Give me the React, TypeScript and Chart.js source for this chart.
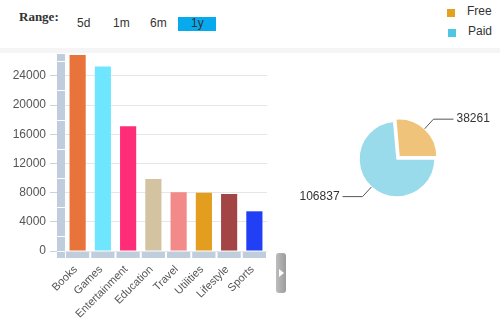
import React, { useEffect, useRef } from "react";
import { Chart, registerables } from "chart.js";

Chart.register(...registerables);

const FONT = '"Liberation Sans", Arial, sans-serif';

const categories = ["Books", "Games", "Entertainment", "Education", "Travel", "Utilities", "Lifestyle", "Sports"];
const downloads = [26880, 25280, 17100, 9880, 8050, 8000, 7820, 5440];
const barColors = ["#e8743b", "#6fe6ff", "#ff2d78", "#d3c3a1", "#f28a8a", "#e39d1f", "#a34545", "#2140f5"];
const yTicks = [0, 4000, 8000, 12000, 16000, 20000, 24000];
const yMax = 27000;

const pieLabels = ["Free", "Paid"];
const pieValues = [38261, 106837];
const pieColors = ["#efc379", "#99dbea"];
const legendColors = ["#e3a21e", "#4fc7e3"];

const rangeButtons = ["5d", "1m", "6m", "1y"];
const activeRange = "1y";

const BLOCK = "#bfcddc";

const axisBlocks = {
  id: "axisBlocks",
  beforeDatasetsDraw(chart: any) {
    const { ctx, chartArea, scales } = chart;
    const x = scales.x;
    const y = scales.y;
    const y0 = Math.round(y.getPixelForValue(0));
    const colL = chartArea.left - 8;
    ctx.save();
    ctx.fillStyle = BLOCK;
    ctx.fillRect(colL, chartArea.top, 8, y0 + 7 - chartArea.top);
    ctx.fillStyle = "#ffffff";
    for (let v = 2000; v < yMax; v += 4000) {
      const py = Math.round(y.getPixelForValue(v));
      ctx.fillRect(colL, py, 8, 1);
    }
    ctx.fillRect(colL, y0, 8, 1);
    ctx.fillStyle = BLOCK;
    const n = categories.length;
    const w = (chartArea.right - chartArea.left) / n;
    for (let i = 0; i < n; i++) {
      const c = x.getPixelForValue(i);
      ctx.fillRect(c - w / 2 + 1, y0 + 1, w - 2, 6);
    }
    ctx.restore();
  },
};

const pieLabelPlugin = {
  id: "pieLabelPlugin",
  afterDatasetsDraw(chart: any) {
    const { ctx } = chart;
    const meta = chart.getDatasetMeta(0);
    ctx.save();
    ctx.strokeStyle = "#555";
    ctx.lineWidth = 1;
    ctx.fillStyle = "#333";
    ctx.font = `12px ${FONT}`;
    ctx.textBaseline = "middle";
    meta.data.forEach((arc: any, i: number) => {
      const p = arc.getProps(["x", "y", "startAngle", "endAngle", "outerRadius"], true);
      const off = (arc.options.offset || 0) / 4;
      const mid = (p.startAngle + p.endAngle) / 2;
      const c = Math.cos(mid);
      const s = Math.sin(mid);
      const r0 = p.outerRadius + off;
      const x0 = p.x + c * r0;
      const y0 = p.y + s * r0;
      const x1 = p.x + c * (r0 + 13);
      const y1 = p.y + s * (r0 + 13);
      const dir = c >= 0 ? 1 : -1;
      const x2 = x1 + dir * 20;
      ctx.beginPath();
      ctx.moveTo(x0, y0);
      ctx.lineTo(x1, y1);
      ctx.lineTo(x2, y1);
      ctx.stroke();
      ctx.textAlign = dir > 0 ? "left" : "right";
      ctx.fillText(String(pieValues[i]), x2 + dir * 3, y1);
    });
    ctx.restore();
  },
};

export default function App() {
  const barRef = useRef<HTMLCanvasElement>(null);
  const pieRef = useRef<HTMLCanvasElement>(null);

  useEffect(() => {
    const bar = new Chart(barRef.current as HTMLCanvasElement, {
      type: "bar",
      data: {
        labels: categories,
        datasets: [
          {
            data: downloads,
            backgroundColor: barColors,
            barPercentage: 0.64,
            categoryPercentage: 1,
            borderWidth: 0,
          },
        ],
      },
      options: {
        responsive: false,
        animation: false,
        layout: { padding: { top: 54, right: 8, left: 0, bottom: 0 } },
        plugins: { legend: { display: false }, tooltip: { enabled: false } },
        scales: {
          x: {
            grid: { display: false },
            border: { display: false },
            ticks: {
              autoSkip: false,
              maxRotation: 45,
              minRotation: 45,
              padding: 4,
              labelOffset: -2,
              color: "#555",
              font: { size: 11, family: FONT },
            },
            afterFit(s: any) {
              s.height = 75;
            },
          },
          y: {
            min: 0,
            max: yMax,
            afterBuildTicks(s: any) {
              s.ticks = yTicks.map((v) => ({ value: v }));
            },
            grid: { color: "#e6e6e6", tickColor: "#c5d3e0", tickLength: 15 },
            border: { display: false },
            ticks: {
              padding: 4,
              color: "#555",
              font: { size: 12, family: FONT },
              callback: (v: any) => String(v),
            },
            afterFit(s: any) {
              s.width = 65;
            },
          },
        },
      } as any,
      plugins: [axisBlocks],
    });

    const pie = new Chart(pieRef.current as HTMLCanvasElement, {
      type: "pie",
      data: {
        labels: pieLabels,
        datasets: [
          {
            data: pieValues,
            backgroundColor: pieColors,
            borderColor: "#ffffff",
            borderWidth: 1.5,
            offset: [12, 0],
          },
        ],
      },
      options: {
        responsive: false,
        animation: false,
        radius: 38,
        rotation: -5,
        layout: { padding: 0 },
        plugins: { legend: { display: false }, tooltip: { enabled: false } },
      } as any,
      plugins: [pieLabelPlugin],
    });

    return () => {
      bar.destroy();
      pie.destroy();
    };
  }, []);

  const btnLeft: Record<string, number> = { "5d": 77, "1m": 113, "6m": 150, "1y": 191 };

  return (
    <div
      style={{
        position: "absolute",
        left: 0,
        top: 0,
        width: 500,
        height: 326,
        background: "#ffffff",
        overflow: "hidden",
        fontFamily: FONT,
      }}
    >
      <div style={{ position: "absolute", left: 0, top: 48, width: 500, height: 5, background: "#f5f5f5" }} />
      <div
        style={{
          position: "absolute",
          left: 19,
          top: 10,
          fontFamily: '"Liberation Serif", "Times New Roman", serif',
          fontWeight: "bold",
          fontSize: 13,
          lineHeight: "13px",
          color: "#333",
        }}
      >
        Range:
      </div>
      <div style={{ position: "absolute", left: 178, top: 17, width: 38, height: 14, background: "#08aaee" }} />
      {rangeButtons.map((b) => (
        <div
          key={b}
          style={{
            position: "absolute",
            left: btnLeft[b],
            top: 17.3,
            fontSize: 12,
            lineHeight: "12px",
            color: b === activeRange ? "#333" : "#333",
          }}
        >
          {b}
        </div>
      ))}
      {pieLabels.map((l, i) => (
        <React.Fragment key={l}>
          <div
            style={{
              position: "absolute",
              left: 447 + i,
              top: 8.5 + i * 20.5,
              width: 8,
              height: 8,
              background: legendColors[i],
            }}
          />
          <div
            style={{
              position: "absolute",
              left: 467 + i,
              top: 4.8 + i * 20,
              fontSize: 12,
              lineHeight: "12px",
              color: "#333",
            }}
          >
            {l}
          </div>
        </React.Fragment>
      ))}
      <canvas ref={barRef} width={275} height={326} style={{ position: "absolute", left: 0, top: 0 }} />
      <canvas ref={pieRef} width={200} height={200} style={{ position: "absolute", left: 297, top: 59 }} />
      <div
        style={{
          position: "absolute",
          left: 276,
          top: 253,
          width: 10,
          height: 40,
          borderRadius: 3,
          background: "linear-gradient(to right, #bdbdbd, #9c9c9c)",
        }}
      >
        <div
          style={{
            position: "absolute",
            left: 3,
            top: 15.5,
            width: 0,
            height: 0,
            borderTop: "4.5px solid transparent",
            borderBottom: "4.5px solid transparent",
            borderLeft: "5px solid #ffffff",
          }}
        />
      </div>
    </div>
  );
}
